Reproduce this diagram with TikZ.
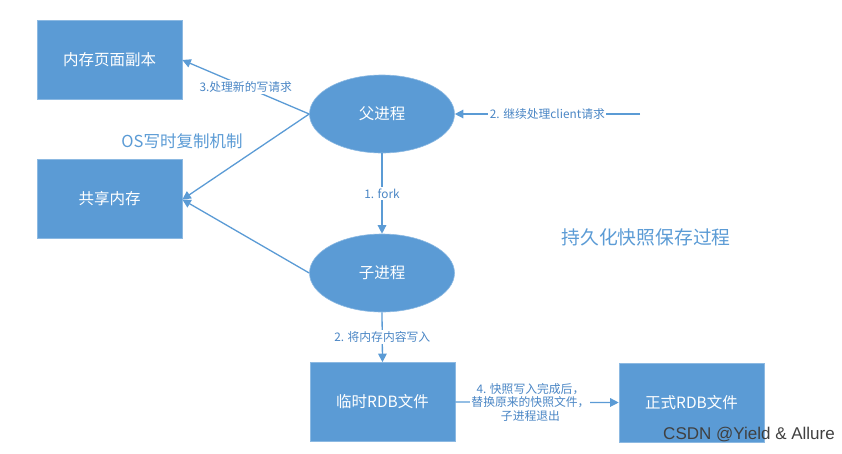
\documentclass[tikz,border=0pt]{standalone}
\usepackage{fontspec}
\setmainfont{Noto Sans CJK SC}
\newfontfamily\wmfont{Liberation Sans}
\usetikzlibrary{shapes.geometric,arrows.meta}
\definecolor{boxblue}{HTML}{5B9BD5}
\definecolor{edgeblue}{HTML}{5B9BD5}
\definecolor{labblue}{HTML}{4A86C5}
\tikzset{
  boxnode/.style={rectangle, fill=boxblue, draw=boxblue!70!white, line width=0.6pt, minimum width=145pt, minimum height=79pt, text=white, font=\fontsize{15.5}{17}\selectfont, inner sep=0pt},
  procnode/.style={ellipse, fill=boxblue, draw=boxblue!70!white, line width=0.6pt, minimum width=145pt, minimum height=78pt, text=white, font=\fontsize{15.5}{17}\selectfont, inner sep=0pt},
  arr/.style={draw=edgeblue, line width=1.3pt, -{Triangle[length=8.5pt,width=8.5pt]}},
  elabel/.style={fill=white, text=labblue, font=\fontsize{11.8}{13.5}\selectfont, inner sep=1.5pt, align=center},
  titletext/.style={text=boxblue, font=\fontsize{16.5}{18}\selectfont, inner sep=0pt},
}
\begin{document}
\begin{tikzpicture}[x=1pt,y=-1pt]
\useasboundingbox (0,0) rectangle (842,453);
\node[boxnode] (copy) at (109.5,60) {内存页面副本};
\node[boxnode] (shared) at (109.5,198.5) {共享内存};
\node[procnode] (parent) at (382,114) {父进程};
\node[procnode] (child) at (382,273) {子进程};
\node[boxnode] (tmp) at (382.5,402) {临时RDB文件};
\node[boxnode] (final) at (691.5,402.5) {正式RDB文件};
\node[titletext] (ostitle) at (182,141) {OS写时复制机制};
\node[titletext, font=\fontsize{18.8}{20}\selectfont] (ptitle) at (646,237) {持久化快照保存过程};
\coordinate (client) at (640,114);
\draw[arr] (parent.west) -- (copy.east) node[elabel, midway] (l3) {3.处理新的写请求};
\draw[arr] (parent.west) -- ([yshift=-1]shared.east);
\draw[arr] (child.west) -- ([yshift=-1]shared.east);
\draw[arr] (client) -- (parent.east) node[elabel, midway] (l2) {2. 继续处理client请求};
\draw[arr] (parent.south) -- (child.north) node[elabel, midway] (l1) {1. fork};
\draw[arr] (child.south) -- (tmp.north) node[elabel, midway] (l2b) {2. 将内存内容写入};
\draw[arr] (tmp.east) -- (final.west) node[elabel, pos=0.46, inner sep=1pt] (l4) {4. 快照写入完成后，\\替换原来的快照文件，\\子进程退出};
\node[text=black!75, font=\wmfont\fontsize{17}{19}\selectfont, anchor=east, inner sep=0pt] (wm) at (835,435) {CSDN @Yield \& Allure};
\end{tikzpicture}
\end{document}
